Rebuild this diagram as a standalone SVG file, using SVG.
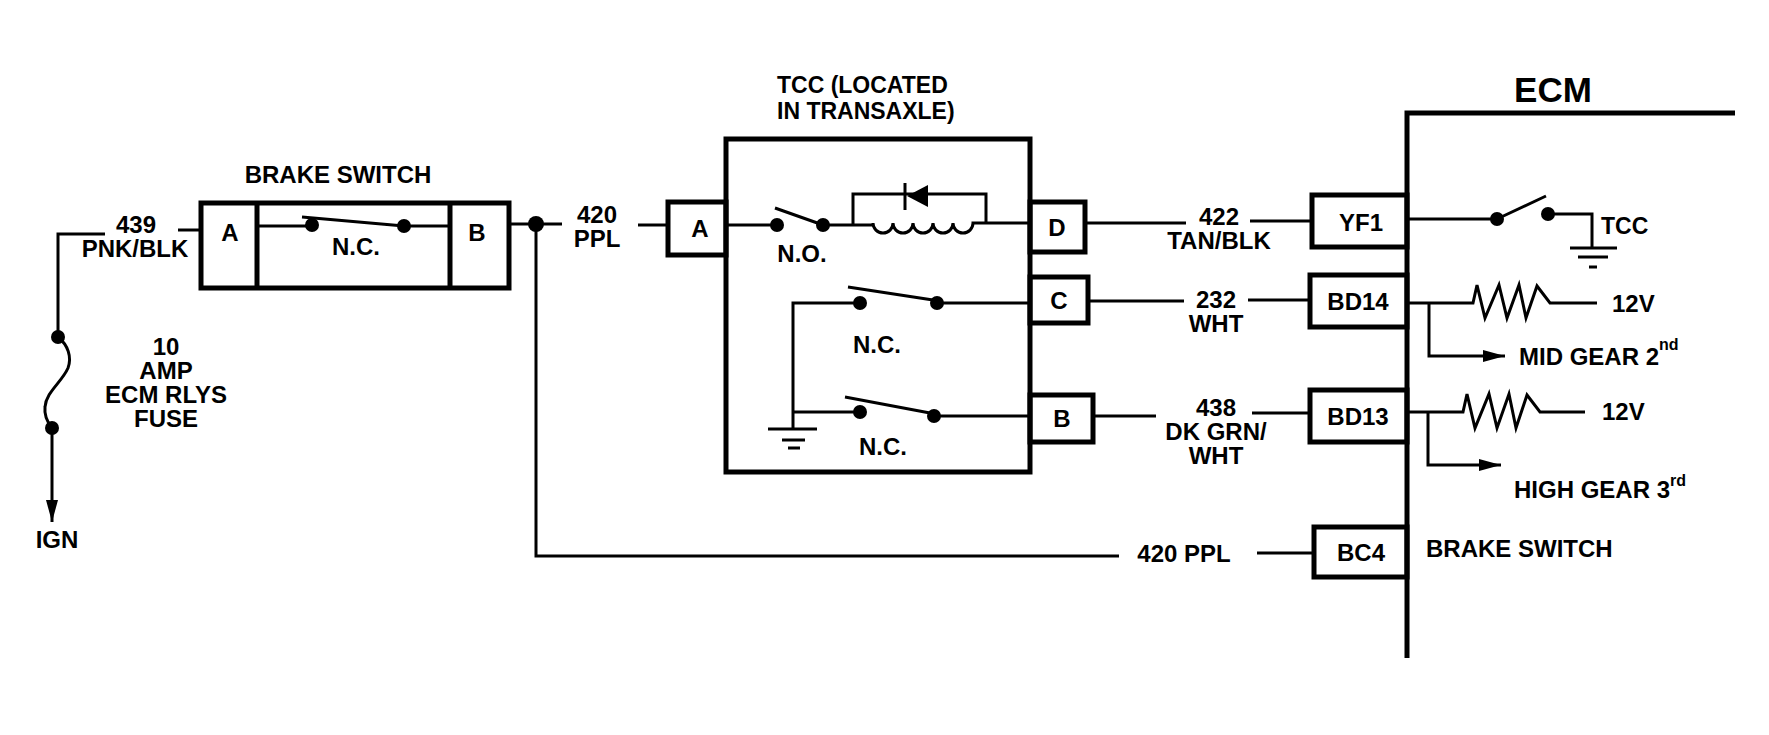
<svg xmlns="http://www.w3.org/2000/svg" width="1769" height="735" viewBox="0 0 1769 735">
<style>
text{font-family:"Liberation Sans",Arial,sans-serif;font-weight:bold;font-size:24px;fill:#000}
.m{text-anchor:middle}
.s23{font-size:23px}
.big{font-size:35px}
.sup{font-size:16px}
.box{fill:none;stroke:#000;stroke-width:5}
.w{fill:none;stroke:#000;stroke-width:3}
.bw{fill:none;stroke:#000;stroke-width:5}
.dot{fill:#000}
</style>
<defs>
<marker id="arr" viewBox="0 0 22 12" refX="22" refY="6" markerWidth="22" markerHeight="12" markerUnits="userSpaceOnUse" orient="auto">
<path d="M0,0 L22,6 L0,12 Z" fill="#000"/>
</marker>
</defs>
<rect width="1769" height="735" fill="#fff"/>

<g id="connectors">
<path class="w" d="M105,234 H58 V337"/>
<path class="w" d="M178,230 H201"/>
<path class="w" d="M509,224 H562"/>
<path class="w" d="M536,224 V556 H1119"/>
<path class="w" d="M638,225 H668"/>
<path class="w" d="M1085,223 H1186"/>
<path class="w" d="M1250,221 H1312"/>
<path class="w" d="M1088,301 H1184"/>
<path class="w" d="M1248,300 H1310"/>
<path class="w" d="M1093,416 H1156"/>
<path class="w" d="M1252,413 H1310"/>
<path class="w" d="M1257,553 H1314"/>
<circle class="dot" cx="536" cy="224" r="8"/>
</g>

<g id="fuse">
<circle class="dot" cx="58" cy="337" r="7"/>
<circle class="dot" cx="52" cy="428" r="7"/>
<path class="w" d="M58,337 C68,345 72,357 68,368 C62,382 46,392 45,407 C44,416 48,423 52,428"/>
<path class="w" d="M52,428 V522" marker-end="url(#arr)"/>
<text class="m" x="166" y="355">10</text>
<text class="m" x="166" y="379">AMP</text>
<text class="m" x="166" y="403">ECM RLYS</text>
<text class="m" x="166" y="427">FUSE</text>
<text class="m" x="57" y="548">IGN</text>
<text class="m" x="136" y="233">439</text>
<text class="m" x="135" y="257">PNK/BLK</text>
</g>

<g id="brake-switch">
<text class="m" x="338" y="183">BRAKE SWITCH</text>
<rect class="box" x="201" y="203" width="308" height="85"/>
<path class="box" d="M257,203 V288 M450,203 V288"/>
<text class="m" x="230" y="241">A</text>
<text class="m" x="477" y="241">B</text>
<path class="w" d="M257,226 H312 M302,217 L404,226 M404,226 H450"/>
<circle class="dot" cx="312" cy="225" r="7"/>
<circle class="dot" cx="404" cy="226" r="7"/>
<text class="m" x="356" y="255">N.C.</text>
<text class="m" x="597" y="223">420</text>
<text class="m" x="597" y="247">PPL</text>
</g>

<g id="tcc">
<text class="s23" x="777" y="93">TCC (LOCATED</text>
<text class="s23" x="777" y="119">IN TRANSAXLE)</text>
<rect class="box" x="726" y="139" width="304" height="333"/>
<rect class="box" x="668" y="202" width="58" height="53"/>
<rect class="box" x="1030" y="202" width="55" height="50"/>
<rect class="box" x="1030" y="277" width="58" height="46"/>
<rect class="box" x="1030" y="395" width="63" height="47"/>
<text class="m" x="700" y="237">A</text>
<text class="m" x="1057" y="236">D</text>
<text class="m" x="1059" y="309">C</text>
<text class="m" x="1062" y="427">B</text>
<path class="w" d="M726,225 H777 M775,208 L823,225 M823,225 H873"/>
<circle class="dot" cx="777" cy="225" r="7"/>
<circle class="dot" cx="823" cy="225" r="7"/>
<path class="w" d="M873,223 a10,10 0 0 0 20,0 a10,10 0 0 0 20,0 a10,10 0 0 0 20,0 a10,10 0 0 0 20,0 a10,10 0 0 0 20,0 H1030"/>
<path class="w" d="M853,225 V194 H986 V223"/>
<path class="w" d="M905,183 V210"/>
<polygon points="907,196 928,185 928,207" fill="#000"/>
<text class="m" x="802" y="262">N.O.</text>
<path class="w" d="M1030,303 H937 M933,300 L848,287 M860,303 H793 V429"/>
<circle class="dot" cx="860" cy="303" r="7"/>
<circle class="dot" cx="937" cy="303" r="7"/>
<text class="m" x="877" y="353">N.C.</text>
<path class="w" d="M793,412 H860 M845,397 L930,413 M934,416 H1030"/>
<circle class="dot" cx="860" cy="412" r="7"/>
<circle class="dot" cx="934" cy="416" r="7"/>
<text class="m" x="883" y="455">N.C.</text>
<path class="w" d="M768,429 H817 M782,440 H805 M788,448 H800"/>
</g>

<g id="wire-labels">
<text class="m" x="1219" y="225">422</text>
<text class="m" x="1219" y="249">TAN/BLK</text>
<text class="m" x="1216" y="308">232</text>
<text class="m" x="1216" y="332">WHT</text>
<text class="m" x="1216" y="416">438</text>
<text class="m" x="1216" y="440">DK GRN/</text>
<text class="m" x="1216" y="464">WHT</text>
<text class="m" x="1184" y="562">420 PPL</text>
</g>

<g id="ecm">
<text class="m big" x="1553" y="102">ECM</text>
<path class="bw" d="M1735,113 H1407 V658"/>
<rect class="box" x="1312" y="195" width="95" height="52"/>
<rect class="box" x="1310" y="275" width="97" height="52"/>
<rect class="box" x="1310" y="390" width="97" height="52"/>
<rect class="box" x="1314" y="527" width="93" height="50"/>
<text class="m" x="1361" y="231">YF1</text>
<text class="m" x="1358" y="310">BD14</text>
<text class="m" x="1358" y="425">BD13</text>
<text class="m" x="1361" y="561">BC4</text>
<path class="w" d="M1409,219 H1497 M1497,219 L1546,196 M1548,214 H1592 V248"/>
<circle class="dot" cx="1497" cy="219" r="7"/>
<circle class="dot" cx="1548" cy="214" r="7"/>
<path class="w" d="M1570,248 H1617 M1578,257 H1608 M1589,267 H1597"/>
<text class="s23" x="1601" y="234">TCC</text>
<path class="w" d="M1409,303 H1473 L1477,285 L1485,318 L1499,285 L1507,318 L1519,285 L1526,318 L1537,286 L1550,303 H1597"/>
<path class="w" d="M1429,303 V356 H1505" marker-end="url(#arr)"/>
<text x="1612" y="312">12V</text>
<text x="1519" y="365">MID GEAR 2<tspan class="sup" dy="-15">nd</tspan></text>
<path class="w" d="M1409,412 H1463 L1467,394 L1475,428 L1489,394 L1497,428 L1509,394 L1516,428 L1527,395 L1540,412 H1585"/>
<path class="w" d="M1428,412 V465 H1501" marker-end="url(#arr)"/>
<text x="1602" y="420">12V</text>
<text x="1514" y="498">HIGH GEAR 3<tspan class="sup" dy="-12">rd</tspan></text>
<text x="1426" y="557">BRAKE SWITCH</text>
</g>
</svg>
